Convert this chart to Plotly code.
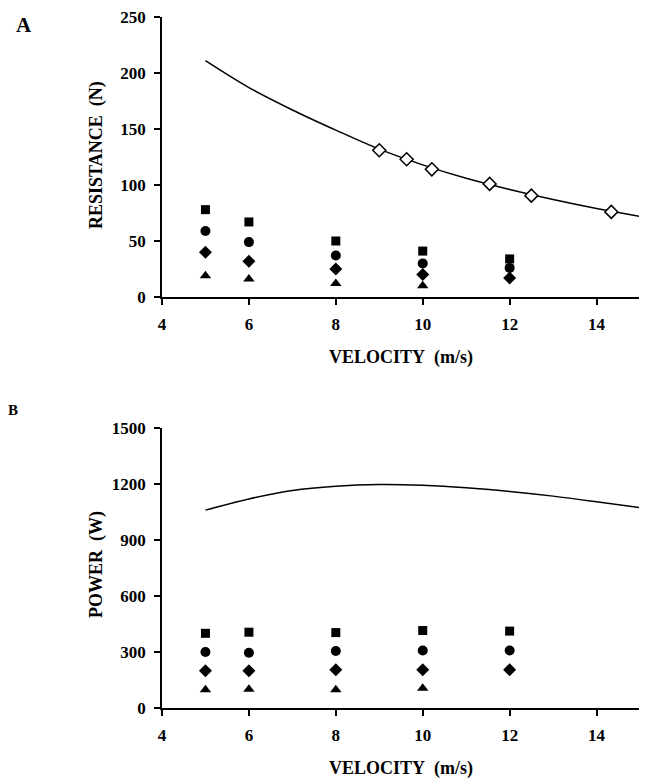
import plotly.graph_objects as go

# ---- data ----
velocity = [5, 6, 8, 10, 12]
velocity_tri = [5, 6, 8, 10]

# Panel A: resistance (N)
res_square = [78, 67, 50, 41, 34]
res_circle = [59, 49, 37, 30, 26]
res_diamond = [40, 32, 25, 20, 17]
res_triangle = [19, 16, 12, 10]

curve_v = [5, 6, 7, 8, 9, 10, 11, 12, 13, 14, 15]
res_curve = [211, 187, 167, 149, 132, 118, 106, 96, 87, 79, 72]

open_v = [9.0, 9.63, 10.21, 11.54, 12.5, 14.34]
open_res = [131, 123, 114, 101, 90.5, 76]

# Panel B: power (W)
pow_square = [400, 406, 404, 415, 412]
pow_circle = [300, 296, 305, 308, 308]
pow_diamond = [199, 199, 205, 205, 205]
pow_triangle = [98, 100, 98, 106]

pow_curve = [1060, 1120, 1165, 1188, 1197, 1193, 1180, 1160, 1135, 1105, 1073]

FONT = "Liberation Serif"
BLACK = "black"

fig = go.Figure()

def markers(x, y, symbol, size, xa, ya, fill=BLACK, lw=0):
    fig.add_trace(go.Scatter(
        x=x, y=y, mode="markers", xaxis=xa, yaxis=ya, showlegend=False,
        marker=dict(symbol=symbol, size=size, color=fill,
                    line=dict(color=BLACK, width=lw))))

# Panel A
fig.add_trace(go.Scatter(x=curve_v, y=res_curve, mode="lines", line=dict(color=BLACK, width=1.5, shape="spline"),
                         xaxis="x", yaxis="y", showlegend=False))
markers(open_v, open_res, "diamond", 10, "x", "y", fill="white", lw=1.5)
markers(velocity, res_square, "square", 9, "x", "y")
markers(velocity, res_circle, "circle", 10, "x", "y")
markers(velocity, res_diamond, "diamond", 10, "x", "y")
markers(velocity_tri, res_triangle, "triangle-up", 10, "x", "y")

# Panel B
fig.add_trace(go.Scatter(x=curve_v, y=pow_curve, mode="lines", line=dict(color=BLACK, width=1.5, shape="spline"),
                         xaxis="x2", yaxis="y2", showlegend=False))
markers(velocity, pow_square, "square", 9, "x2", "y2")
markers(velocity, pow_circle, "circle", 10, "x2", "y2")
markers(velocity, pow_diamond, "diamond", 10, "x2", "y2")
markers(velocity_tri, pow_triangle, "triangle-up", 10, "x2", "y2")

# page has an 8px body margin; figure is sized to fit inside the 647x778 window
OFF = 8
W, H = 647 - OFF, 778 - OFF

def px(x):
    return (x - OFF) / W

def py(y):
    return 1 - (y - OFF) / H

xdom = [px(162), px(640)]
axis_common = dict(showgrid=False, zeroline=False, showline=True, linecolor=BLACK, linewidth=1.5,
                   ticks="outside", ticklen=6, tickcolor=BLACK, tickwidth=1.5, automargin=False,
                   ticklabeloverflow="allow",
                   tickfont=dict(family=FONT, size=17, color=BLACK, weight="bold"))

fig.update_layout(
    width=W, height=H, margin=dict(l=0, r=0, t=0, b=0, autoexpand=False),
    paper_bgcolor="white", plot_bgcolor="white", showlegend=False,
    font=dict(family=FONT, color=BLACK),
    xaxis=dict(domain=xdom, range=[4, 15], tickvals=[4, 6, 8, 10, 12, 14], anchor="y",
               ticklabelstandoff=5, **axis_common),
    yaxis=dict(domain=[py(297), py(17)], range=[0, 250], tickvals=[0, 50, 100, 150, 200, 250],
               anchor="x", ticklabelstandoff=5, **axis_common),
    xaxis2=dict(domain=xdom, range=[4, 15], tickvals=[4, 6, 8, 10, 12, 14], anchor="y2",
                ticklabelstandoff=5, **axis_common),
    yaxis2=dict(domain=[py(708), py(428)], range=[0, 1500], tickvals=[0, 300, 600, 900, 1200, 1500],
                anchor="x2", ticklabelstandoff=5, **axis_common),
)

def ann(text, x, y, size=18, angle=0):
    fig.add_annotation(text=text, x=px(x), y=py(y), xref="paper", yref="paper",
                       showarrow=False, textangle=angle, xanchor="center", yanchor="middle",
                       font=dict(family=FONT, size=size, color=BLACK, weight="bold"))

ann("A", 24, 25, size=21)
ann("B", 13, 410, size=15)
ann("RESISTANCE\u00a0\u00a0(N)", 96, 155, angle=-90)
ann("VELOCITY\u00a0\u00a0(m/s)", 401, 357)
ann("POWER\u00a0\u00a0(W)", 96, 565, angle=-90)
ann("VELOCITY\u00a0\u00a0(m/s)", 401, 768)

fig.write_html("out.html")
